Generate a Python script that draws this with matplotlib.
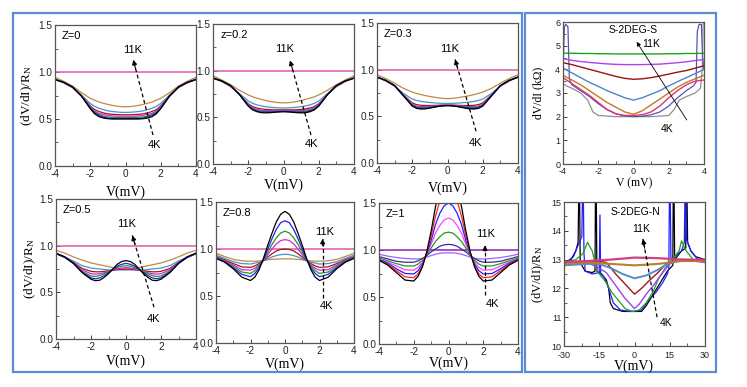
import numpy as np
import matplotlib
matplotlib.use('Agg')
import matplotlib.pyplot as plt
from matplotlib.patches import Rectangle
from matplotlib.ticker import FormatStrFormatter, MultipleLocator

plt.rcParams['font.family'] = ['Liberation Sans', 'DejaVu Sans']
plt.rcParams['axes.unicode_minus'] = False
plt.rcParams['mathtext.fontset'] = 'custom'
plt.rcParams['mathtext.rm'] = 'Liberation Serif'
plt.rcParams['mathtext.it'] = 'Liberation Serif:italic'

W, H = 747, 387

# ---------------- data: theoretical panels (half curves, symmetric in V) -------
V_half = [0, 0.25, 0.5, 0.75, 1.0, 1.25, 1.5, 1.75, 2.0, 2.5, 3.0, 3.5, 4.0]

colors_std = ['#000000', '#2222e8', '#1f9a1f', '#e020e0', '#a01818', '#4a90d0', '#c08a40']
flat_std = '#e05aa0'
colors_z1 = ['#000000', '#ff2020', '#2020ff', '#ff40ff', '#1f9a1f', '#303090', '#a060ff']
flat_z1 = '#9020b0'
flat_level = 1.0

z00 = [
    [.50, .50, .50, .50, .503, .51, .525, .555, .61, .745, .84, .89, .92],
    [.505, .505, .505, .505, .51, .52, .535, .565, .615, .745, .84, .89, .92],
    [.515, .515, .515, .517, .522, .53, .547, .575, .62, .745, .84, .89, .92],
    [.53, .53, .53, .533, .54, .548, .56, .585, .63, .745, .835, .89, .92],
    [.545, .545, .547, .55, .555, .565, .58, .60, .64, .745, .835, .885, .92],
    [.57, .571, .575, .58, .587, .60, .613, .635, .665, .755, .835, .885, .925],
    [.63, .632, .637, .645, .655, .667, .68, .70, .72, .78, .85, .90, .945],
]
z02 = [
    [.56, .558, .554, .55, .548, .55, .56, .58, .62, .745, .84, .89, .92],
    [.563, .561, .558, .556, .555, .557, .566, .585, .625, .745, .84, .89, .92],
    [.567, .566, .564, .563, .563, .566, .575, .595, .63, .745, .835, .89, .92],
    [.572, .572, .571, .571, .572, .576, .585, .603, .637, .745, .835, .89, .92],
    [.58, .58, .58, .582, .585, .59, .60, .615, .645, .745, .83, .885, .92],
    [.60, .601, .604, .608, .614, .622, .633, .65, .675, .755, .835, .885, .925],
    [.655, .657, .662, .67, .68, .692, .705, .72, .74, .79, .85, .90, .945],
]
z03 = [
    [.615, .613, .607, .598, .588, .58, .578, .585, .61, .72, .83, .885, .92],
    [.615, .613, .608, .60, .593, .587, .585, .592, .615, .72, .83, .885, .92],
    [.616, .615, .611, .605, .60, .595, .594, .60, .622, .722, .828, .885, .92],
    [.618, .617, .614, .61, .607, .604, .604, .61, .63, .725, .825, .885, .92],
    [.622, .621, .619, .617, .616, .616, .618, .625, .643, .73, .825, .88, .92],
    [.638, .639, .641, .644, .648, .653, .66, .67, .685, .745, .825, .88, .925],
    [.69, .692, .697, .705, .713, .722, .733, .745, .76, .80, .855, .905, .945],
]
z05 = [
    [.84, .83, .80, .75, .70, .66, .63, .625, .64, .71, .81, .88, .92],
    [.81, .80, .78, .745, .71, .68, .655, .645, .655, .715, .81, .875, .915],
    [.785, .78, .765, .745, .72, .70, .68, .67, .675, .725, .81, .875, .915],
    [.765, .76, .75, .74, .725, .71, .70, .695, .70, .74, .815, .875, .915],
    [.75, .748, .743, .737, .73, .725, .72, .72, .725, .755, .82, .875, .915],
    [.74, .74, .74, .74, .74, .745, .75, .755, .76, .785, .835, .88, .92],
    [.745, .748, .755, .765, .775, .785, .795, .805, .815, .845, .88, .92, .95],
]
z08 = [
    [1.40, 1.37, 1.29, 1.17, 1.04, .90, .78, .70, .665, .70, .79, .86, .90],
    [1.30, 1.28, 1.21, 1.11, 1.00, .89, .80, .74, .705, .73, .80, .865, .905],
    [1.19, 1.17, 1.12, 1.05, .965, .885, .82, .77, .74, .755, .815, .87, .91],
    [1.10, 1.09, 1.055, 1.00, .94, .88, .83, .795, .775, .78, .83, .875, .915],
    [1.00, .995, .98, .95, .915, .877, .845, .82, .805, .81, .845, .885, .92],
    [.945, .94, .93, .915, .895, .875, .86, .85, .84, .845, .865, .90, .935],
    [.895, .895, .893, .89, .885, .878, .873, .87, .87, .875, .89, .92, .955],
]
z10 = [
    [1.85, 1.79, 1.65, 1.46, 1.20, .98, .82, .72, .67, .68, .76, .84, .89],
    [1.68, 1.63, 1.52, 1.36, 1.15, .97, .83, .745, .705, .715, .78, .85, .895],
    [1.50, 1.47, 1.39, 1.27, 1.10, .96, .85, .78, .745, .75, .80, .86, .90],
    [1.34, 1.32, 1.26, 1.18, 1.06, .96, .87, .815, .785, .79, .83, .87, .905],
    [1.19, 1.18, 1.14, 1.09, 1.02, .95, .89, .85, .83, .83, .855, .885, .915],
    [1.06, 1.055, 1.04, 1.01, .98, .94, .91, .885, .87, .87, .88, .905, .93],
    [.97, .97, .965, .955, .94, .925, .91, .905, .905, .91, .92, .935, .955],
]

panel_titles = ['Z=0', 'z=0.2', 'Z=0.3', 'Z=0.5', 'Z=0.8', 'Z=1']
# arrow: (tail V, tail y, head V, head y); label positions (11K V,y), (4K V,y)
arrows = [
    (1.56, 0.33, 0.44, 1.13), (1.56, 0.31, 0.37, 1.11), (1.62, 0.34, 0.43, 1.11),
    (1.60, 0.34, 0.36, 1.11), (2.18, 0.48, 2.18, 1.11), (2.10, 0.52, 2.10, 1.05),
]
lab11 = [(0.38, 1.23), (0.08, 1.23), (0.10, 1.22), (0.04, 1.23), (2.30, 1.18), (2.15, 1.17)]
lab4 = [(1.62, 0.22), (1.60, 0.21), (1.58, 0.21), (1.56, 0.21), (2.40, 0.39), (2.55, 0.43)]

# ---------------- data: S-2DEG-S (dV/dI in kOhm) ----------------
S_V17 = [-4, -3.5, -3, -2.5, -2, -1.5, -1, -0.5, 0, 0.5, 1, 1.5, 2, 2.5, 3, 3.5, 4]
S_green = [4.68, 4.68, 4.67, 4.67, 4.66, 4.66, 4.65, 4.65, 4.65, 4.65, 4.65, 4.65, 4.66, 4.66, 4.67, 4.67, 4.68]
S_violet = [4.45, 4.38, 4.33, 4.29, 4.26, 4.23, 4.21, 4.2, 4.2, 4.2, 4.21, 4.22, 4.25, 4.28, 4.32, 4.37, 4.42]
S_red = [4.28, 4.2, 4.1, 4.0, 3.9, 3.8, 3.7, 3.62, 3.58, 3.6, 3.65, 3.72, 3.8, 3.88, 3.95, 4.05, 4.15]
S_steel = [4.05, 3.85, 3.65, 3.45, 3.28, 3.1, 2.95, 2.8, 2.7, 2.8, 2.95, 3.1, 3.3, 3.48, 3.65, 3.82, 4.0]
S_brown = [3.75, 3.55, 3.35, 3.1, 2.85, 2.6, 2.4, 2.2, 2.1, 2.25, 2.5, 2.75, 3.0, 3.25, 3.45, 3.6, 3.75]
S_pink = [3.65, 3.4, 3.15, 2.9, 2.6, 2.3, 2.12, 2.05, 2.05, 2.08, 2.2, 2.45, 2.8, 3.1, 3.35, 3.5, 3.55]
S_slate_V = [-4, -3.92, -3.85, -3.72, -3.64, -3.5, -3, -2.5, -2, -1.5, -1, -0.5, 0, 0.5, 1, 1.5, 2, 2.5, 3, 3.4, 3.55, 3.62, 3.72, 3.85, 3.92, 4]
S_slate = [4.0, 5.8, 5.9, 5.8, 3.6, 3.35, 3.1, 2.85, 2.55, 2.3, 2.12, 2.03, 2.0, 2.02, 2.08, 2.2, 2.45, 2.8, 3.1, 3.3, 3.45, 5.6, 5.9, 5.9, 4.5, 4.0]
S_gray_V = [-4, -3.8, -3.5, -3, -2.6, -2.3, -2.0, -1, 0, 1, 2.0, 2.3, 2.6, 3.0, 3.5, 3.8, 3.9, 3.95, 4.0]
S_gray = [3.4, 3.3, 3.2, 3.0, 2.7, 2.2, 2.05, 2.0, 2.0, 2.0, 2.05, 2.3, 2.7, 2.85, 3.0, 3.2, 4.0, 5.9, 6.0]

# ---------------- data: S-2DEG-N ((dV/dI)/R_N) ----------------
N_pink_V = [-30, -20, -10, 0, 10, 20, 30]
N_pink = [12.92, 12.95, 13.0, 13.07, 13.05, 13.0, 13.0]
N_brown_V = [-30, -20, -10, 0, 10, 20, 30]
N_brown = [12.85, 12.9, 12.85, 12.8, 12.85, 12.95, 12.95]
N_steel_V = [-30, -20, -15, -10, -5, 0, 5, 10, 15, 20, 30]
N_steel = [12.8, 12.85, 12.85, 12.7, 12.5, 12.35, 12.45, 12.65, 12.9, 13.0, 12.95]
N_red_V = [-30, -15, -12, -8, -4, 0, 3, 6, 10, 14, 20, 30]
N_red = [12.85, 12.95, 12.9, 12.5, 12.15, 11.8, 12.0, 12.25, 12.55, 12.9, 13.0, 12.95]
N_violet_V = [-30, -20, -15, -12, -8, -4, 0, 2, 5, 8, 12, 15, 20, 30]
N_violet = [12.8, 12.9, 12.7, 12.55, 12.1, 11.65, 11.3, 11.45, 11.8, 12.1, 12.55, 12.85, 13.0, 12.9]
N_green_V = [-30, -25, -22, -20, -18, -16, -14, -12, -10, -7, -4, -1, 2, 5, 8, 10, 13, 16, 19, 20, 22, 25, 30]
N_green = [12.9, 13.0, 13.2, 13.6, 13.3, 12.6, 12.4, 12.2, 11.9, 11.6, 11.3, 11.2, 11.25, 11.5, 11.9, 12.3, 12.7, 13.0, 13.3, 13.65, 13.3, 13.0, 12.9]
N_blue_V = [-30, -26, -24, -22.4, -22.1, -21.8, -21.5, -21, -18, -15.0, -14.7, -14.4, -13, -11, -9, -6, -2, 0, 3, 6, 9, 12, 14, 14.6, 14.9, 15.2, 15.5, 17, 20, 21.2, 21.5, 21.8, 22.1, 24, 27, 30]
N_blue = [12.85, 13.1, 13.5, 13.8, 15.5, 15.5, 13.2, 12.6, 12.5, 12.55, 14.55, 12.5, 12.4, 12.0, 11.5, 11.25, 11.2, 11.2, 11.25, 11.6, 11.85, 12.2, 12.5, 12.7, 15.5, 15.5, 13.0, 13.1, 13.3, 13.6, 15.5, 15.5, 13.7, 13.3, 13.0, 12.9]
N_black_V = [-30, -27, -25, -24, -23.7, -23.4, -23.1, -21, -18, -16.8, -16.6, -16.3, -16, -14, -12, -11, -10.3, -9, -5, 0, 3, 5, 8, 11, 14, 16.3, 16.5, 16.8, 17.1, 20, 21.8, 22.0, 22.3, 22.6, 24, 26, 30]
N_black = [12.9, 13.0, 13.3, 13.6, 15.5, 15.5, 12.9, 12.6, 12.55, 12.6, 15.5, 15.5, 12.6, 12.5, 12.3, 12.0, 11.5, 11.3, 11.2, 11.2, 11.2, 11.4, 11.8, 12.2, 12.6, 12.8, 15.5, 15.5, 13.0, 13.3, 13.4, 15.5, 15.5, 13.6, 13.3, 13.1, 13.0]

# ---------------- figure ----------------
fig = plt.figure(figsize=(W / 100, H / 100), dpi=100)


def rect(l, t, r, b):
    return [l / W, 1 - b / H, (r - l) / W, (b - t) / H]


border = '#5b8bd6'
fig.patches.append(Rectangle((13 / W, 1 - 372 / H), (522 - 13) / W, (372 - 13) / H,
                             transform=fig.transFigure, fill=False, ec=border, lw=1.6))
fig.patches.append(Rectangle((525 / W, 1 - 372 / H), (716 - 525) / W, (372 - 13) / H,
                             transform=fig.transFigure, fill=False, ec=border, lw=1.6))

spine_c = '#555555'


def style(ax, ls=7.2):
    for s in ax.spines.values():
        s.set_color(spine_c)
        s.set_linewidth(0.9)
    ax.tick_params(which='both', direction='in', labelsize=ls, pad=2, colors='#222222',
                   top=False, right=False)
    ax.tick_params(which='major', length=3, width=0.6)
    ax.tick_params(which='minor', length=2, width=0.5)


def dashed_arrow(ax, t):
    x0, y0, x1, y1 = t
    ax.plot([x0, x1], [y0, y1], ls=(0, (3, 2.2)), color='k', lw=0.9)
    bx = x1 + 0.12 * (x0 - x1)
    by = y1 + 0.12 * (y0 - y1)
    ax.annotate('', xy=(x1, y1), xytext=(bx, by),
                arrowprops=dict(arrowstyle='-|>', color='k', lw=0.8, mutation_scale=7,
                                shrinkA=0, shrinkB=0))


serif = ['Liberation Serif', 'DejaVu Serif']
ylab = '(dV/dI)/R$_\\mathregular{N}$'

panel_rects = [(55, 25, 196, 166), (213, 24, 354, 164), (377, 23, 518, 163),
               (56, 199, 196, 339), (216, 202, 354, 343), (379, 203, 518, 344)]
xlab_y = [192, 185, 188, 361, 364, 363]
panel_data = [z00, z02, z03, z05, z08, z10]

Vh = np.array(V_half)
Vfull = np.concatenate([-Vh[::-1], Vh[1:]])

for i, (pr, data) in enumerate(zip(panel_rects, panel_data)):
    ax = fig.add_axes(rect(*pr))
    style(ax)
    cols = colors_z1 if i == 5 else colors_std
    fc = flat_z1 if i == 5 else flat_std
    ax.plot([-4, 4], [flat_level, flat_level], color=fc, lw=1.1)
    for c, vals in reversed(list(zip(cols, data))):
        v = np.array(vals)
        y = np.concatenate([v[::-1], v[1:]])
        ax.plot(Vfull, y, color=c, lw=0.9)
    ax.set_xlim(-4, 4)
    ax.set_ylim(0, 1.5)
    ax.set_xticks([-4, -2, 0, 2, 4])
    ax.xaxis.set_minor_locator(MultipleLocator(1))
    ax.set_yticks([0, 0.5, 1.0, 1.5])
    ax.yaxis.set_minor_locator(MultipleLocator(0.25))
    ax.yaxis.set_major_formatter(FormatStrFormatter('%.1f'))
    ax.text(-3.6, 1.38, panel_titles[i], fontsize=8, ha='left', va='center')
    dashed_arrow(ax, arrows[i])
    ax.text(*lab11[i], '11K', fontsize=8, ha='center', va='center')
    ax.text(*lab4[i], '4K', fontsize=8, ha='center', va='center')
    l, t, r, b = pr
    fig.text(((l + r) / 2) / W, 1 - xlab_y[i] / H, 'V(mV)', family=serif, fontsize=10,
             ha='center', va='center')
    if i in (0, 3):
        xl = 27 if i == 0 else 30
        fig.text(xl / W, 1 - ((t + b) / 2) / H, ylab, family=serif, fontsize=9.5,
                 rotation=90, ha='center', va='center')

# ---- S-2DEG-S ----
ax = fig.add_axes(rect(563, 22, 704, 164))
style(ax, 6.5)
ax.plot(S_gray_V, S_gray, color='#909090', lw=0.9)
ax.plot(S_slate_V, S_slate, color='#5555b0', lw=0.9)
for vals, c in [(S_pink, '#e0307a'), (S_brown, '#c07a20'), (S_steel, '#4a86c8'),
                (S_red, '#a01010'), (S_violet, '#b040f0'), (S_green, '#20a020')]:
    ax.plot(S_V17, vals, color=c, lw=1.0)
ax.set_xlim(-4, 4)
ax.set_ylim(0, 6)
ax.set_xticks([-4, -2, 0, 2, 4])
ax.xaxis.set_minor_locator(MultipleLocator(1))
ax.set_yticks(range(7))
ax.yaxis.set_minor_locator(MultipleLocator(0.5))
ax.text(0.0, 5.65, 'S-2DEG-S', fontsize=7.5, ha='center', va='center')
ax.annotate('', xy=(0.18, 5.16), xytext=(3.02, 1.86),
            arrowprops=dict(arrowstyle='-|>', color='k', lw=0.6, mutation_scale=6,
                            shrinkA=0, shrinkB=0))
ax.text(1.0, 5.06, '11K', fontsize=7.5, ha='center', va='center')
ax.text(1.9, 1.5, '4K', fontsize=7.5, ha='center', va='center')
fig.text(634 / W, 1 - 183 / H, 'V (mV)', family=serif, fontsize=8.5, ha='center', va='center')
fig.text(538 / W, 1 - 93 / H, 'dV/dI (k\u03a9)', family=serif, fontsize=8.5,
         rotation=90, ha='center', va='center')

# ---- S-2DEG-N ----
ax = fig.add_axes(rect(564, 202, 705, 346))
style(ax, 6.5)
ax.tick_params(axis='x', pad=3.5)
ax.plot(N_black_V, N_black, color='#000000', lw=0.9)
ax.plot(N_blue_V, N_blue, color='#2020ff', lw=0.9)
ax.plot(N_green_V, N_green, color='#20a020', lw=0.9)
ax.plot(N_violet_V, N_violet, color='#a040f0', lw=1.0)
ax.plot(N_red_V, N_red, color='#a01818', lw=1.0)
ax.plot(N_steel_V, N_steel, color='#5090c8', lw=1.4)
ax.plot(N_brown_V, N_brown, color='#b8802a', lw=1.5)
ax.plot(N_pink_V, N_pink, color='#d04080', lw=1.6)
ax.set_xlim(-30, 30)
ax.set_ylim(10, 15)
ax.set_xticks([-30, -15, 0, 15, 30])
ax.xaxis.set_minor_locator(MultipleLocator(7.5))
ax.set_yticks(range(10, 16))
ax.yaxis.set_minor_locator(MultipleLocator(0.5))
ax.text(0.2, 14.66, 'S-2DEG-N', fontsize=7.5, ha='center', va='center')
dashed_arrow(ax, (9.6, 11.0, 3.6, 13.72))
ax.text(2.7, 14.05, '11K', fontsize=7.5, ha='center', va='center')
ax.text(13.6, 10.8, '4K', fontsize=7.5, ha='center', va='center')
fig.text(634 / W, 1 - 366 / H, 'V(mV)', family=serif, fontsize=10, ha='center', va='center')
fig.text(538 / W, 1 - 274 / H, ylab, family=serif, fontsize=9,
         rotation=90, ha='center', va='center')

fig.savefig('out.png', dpi=100)
